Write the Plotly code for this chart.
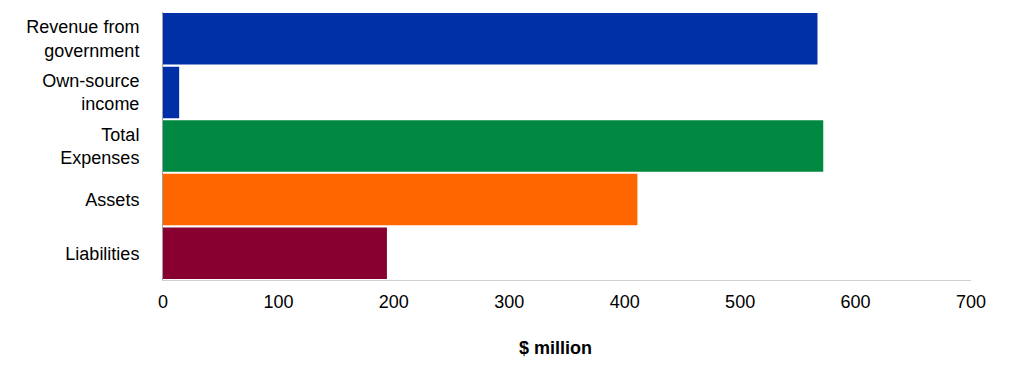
import plotly.graph_objects as go

categories = ["Revenue from<br>government", "Own-source<br>income", "Total<br>Expenses", "Assets", "Liabilities"]
values = [567, 14, 572, 411, 194]
colors = ["#0030A8", "#0030A8", "#008840", "#FF6600", "#880030"]
x_ticks = [0, 100, 200, 300, 400, 500, 600, 700]

fig = go.Figure(go.Bar(
    y=categories, x=values, orientation="h",
    marker=dict(color=colors, line=dict(width=0)),
))
fig.update_layout(
    width=1011, height=369,
    margin=dict(l=163, r=40, t=12, b=89),
    paper_bgcolor="white", plot_bgcolor="white",
    bargap=0.04,
    showlegend=False,
    font=dict(family="Liberation Sans, Arial, sans-serif", size=18, color="#000000"),
    annotations=[dict(
        text="<b>$ million</b>", xref="paper", yref="paper",
        x=0.486, y=-0.254, xanchor="center", yanchor="middle",
        showarrow=False, font=dict(size=18),
    )],
)
fig.update_xaxes(
    range=[0, 700], tickvals=x_ticks, showgrid=False, zeroline=False,
    showline=True, linecolor="#D0D0D0", linewidth=1,
    ticks="", ticklabelstandoff=5,
)
fig.update_yaxes(
    autorange="reversed", showgrid=False, zeroline=False,
    showline=True, linecolor="#A0A0A0", linewidth=1,
    ticks="", ticklabelstandoff=19,
)
fig.write_html("out.html")
